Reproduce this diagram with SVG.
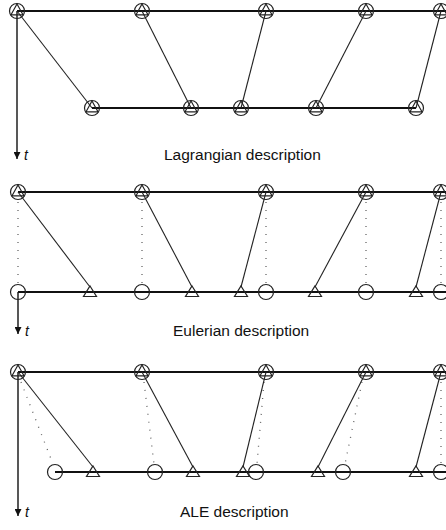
<svg xmlns="http://www.w3.org/2000/svg" width="446" height="530" viewBox="0 0 446 530">
<defs>
<style>
.bg{fill:#fff}
.main{stroke:#111;stroke-width:1.8;fill:none}
.link{stroke:#222;stroke-width:1.1;fill:none}
.dot{stroke:#666;stroke-width:1.3;stroke-dasharray:1 7;fill:none}
.axis{stroke:#111;stroke-width:1.4;fill:none}
.circ{fill:none;stroke:#222;stroke-width:1.2}
.tri{fill:none;stroke:#222;stroke-width:1.2}
.lbl{font-family:"Liberation Sans",Arial,sans-serif;font-size:15.5px;fill:#111}
.t{font-family:"Liberation Sans",Arial,sans-serif;font-size:14px;font-style:italic;fill:#111}
</style>
<marker id="arr" viewBox="0 0 8 8" refX="8" refY="4" markerWidth="7" markerHeight="7" markerUnits="userSpaceOnUse" orient="auto">
<path d="M0,0 L8,4 L0,8 Z" fill="#111"/>
</marker>
<g id="both">
<circle class="circ" r="7.5"/>
<path class="tri" d="M0,-7 L6,3.8 L-6,3.8 Z"/>
</g>
<g id="c">
<circle class="circ" r="7.5"/>
</g>
<g id="tr">
<path class="tri" d="M0,-6 L6.5,4.5 L-6.5,4.5 Z"/>
</g>
</defs>
<rect class="bg" width="446" height="530"/>

<!-- Connectors -->
<g id="connectors">
<!-- Lagrangian -->
<line class="main" x1="17" y1="11" x2="446" y2="11"/>
<line class="main" x1="92" y1="108" x2="416" y2="108"/>
<line class="axis" x1="17" y1="11" x2="17" y2="159" marker-end="url(#arr)"/>
<line class="link" x1="17" y1="11" x2="92" y2="108"/>
<line class="link" x1="142" y1="11" x2="191" y2="108"/>
<line class="link" x1="266" y1="11" x2="241" y2="108"/>
<line class="link" x1="366" y1="11" x2="316" y2="108"/>
<line class="link" x1="441" y1="11" x2="416" y2="108"/>
<!-- Eulerian -->
<line class="main" x1="18" y1="192" x2="446" y2="192"/>
<line class="main" x1="18" y1="292" x2="446" y2="292"/>
<line class="axis" x1="18" y1="292" x2="18" y2="334" marker-end="url(#arr)"/>
<line class="dot" x1="18" y1="202" x2="18" y2="284"/>
<line class="dot" x1="142" y1="202" x2="142" y2="284"/>
<line class="dot" x1="266" y1="202" x2="266" y2="284"/>
<line class="dot" x1="366" y1="202" x2="366" y2="284"/>
<line class="dot" x1="441" y1="202" x2="441" y2="284"/>
<line class="link" x1="18" y1="192" x2="90" y2="287"/>
<line class="link" x1="142" y1="192" x2="192" y2="287"/>
<line class="link" x1="266" y1="192" x2="241" y2="287"/>
<line class="link" x1="366" y1="192" x2="315" y2="287"/>
<line class="link" x1="441" y1="192" x2="416" y2="287"/>
<!-- ALE -->
<line class="main" x1="18" y1="372" x2="446" y2="372"/>
<line class="main" x1="55" y1="472" x2="446" y2="472"/>
<line class="axis" x1="18" y1="372" x2="18" y2="516" marker-end="url(#arr)"/>
<line class="dot" x1="21" y1="382" x2="53" y2="464"/>
<line class="dot" x1="144" y1="382" x2="154" y2="464"/>
<line class="dot" x1="264" y1="382" x2="257" y2="464"/>
<line class="dot" x1="362" y1="382" x2="345" y2="464"/>
<line class="dot" x1="441" y1="382" x2="441" y2="464"/>
<line class="link" x1="18" y1="372" x2="93" y2="467"/>
<line class="link" x1="142" y1="372" x2="193" y2="467"/>
<line class="link" x1="266" y1="372" x2="243" y2="467"/>
<line class="link" x1="366" y1="372" x2="318" y2="467"/>
<line class="link" x1="441" y1="372" x2="416" y2="467"/>
</g>

<!-- Lagrangian nodes -->
<g id="lag-top-1"><use href="#both" x="17" y="11"/></g>
<g id="lag-top-2"><use href="#both" x="142" y="11"/></g>
<g id="lag-top-3"><use href="#both" x="266" y="11"/></g>
<g id="lag-top-4"><use href="#both" x="366" y="11"/></g>
<g id="lag-top-5"><use href="#both" x="441" y="11"/></g>
<g id="lag-bot-1"><use href="#both" x="92" y="108"/></g>
<g id="lag-bot-2"><use href="#both" x="191" y="108"/></g>
<g id="lag-bot-3"><use href="#both" x="241" y="108"/></g>
<g id="lag-bot-4"><use href="#both" x="316" y="108"/></g>
<g id="lag-bot-5"><use href="#both" x="416" y="108"/></g>

<!-- Eulerian nodes -->
<g id="eul-top-1"><use href="#both" x="18" y="192"/></g>
<g id="eul-top-2"><use href="#both" x="142" y="192"/></g>
<g id="eul-top-3"><use href="#both" x="266" y="192"/></g>
<g id="eul-top-4"><use href="#both" x="366" y="192"/></g>
<g id="eul-top-5"><use href="#both" x="441" y="192"/></g>
<g id="eul-mesh-1"><use href="#c" x="18" y="292"/></g>
<g id="eul-mesh-2"><use href="#c" x="142" y="292"/></g>
<g id="eul-mesh-3"><use href="#c" x="266" y="292"/></g>
<g id="eul-mesh-4"><use href="#c" x="366" y="292"/></g>
<g id="eul-mesh-5"><use href="#c" x="441" y="292"/></g>
<g id="eul-mat-1"><use href="#tr" x="90" y="292"/></g>
<g id="eul-mat-2"><use href="#tr" x="192" y="292"/></g>
<g id="eul-mat-3"><use href="#tr" x="241" y="292"/></g>
<g id="eul-mat-4"><use href="#tr" x="315" y="292"/></g>
<g id="eul-mat-5"><use href="#tr" x="416" y="292"/></g>

<!-- ALE nodes -->
<g id="ale-top-1"><use href="#both" x="18" y="372"/></g>
<g id="ale-top-2"><use href="#both" x="142" y="372"/></g>
<g id="ale-top-3"><use href="#both" x="266" y="372"/></g>
<g id="ale-top-4"><use href="#both" x="366" y="372"/></g>
<g id="ale-top-5"><use href="#both" x="441" y="372"/></g>
<g id="ale-mesh-1"><use href="#c" x="55" y="472"/></g>
<g id="ale-mesh-2"><use href="#c" x="155" y="472"/></g>
<g id="ale-mesh-3"><use href="#c" x="256" y="472"/></g>
<g id="ale-mesh-4"><use href="#c" x="343" y="472"/></g>
<g id="ale-mesh-5"><use href="#c" x="441" y="472"/></g>
<g id="ale-mat-1"><use href="#tr" x="93" y="472"/></g>
<g id="ale-mat-2"><use href="#tr" x="193" y="472"/></g>
<g id="ale-mat-3"><use href="#tr" x="243" y="472"/></g>
<g id="ale-mat-4"><use href="#tr" x="318" y="472"/></g>
<g id="ale-mat-5"><use href="#tr" x="416" y="472"/></g>

<!-- Labels -->
<g id="labels">
<text class="t" x="24" y="160">t</text>
<text class="lbl" x="164" y="160">Lagrangian description</text>
<text class="t" x="25" y="336">t</text>
<text class="lbl" x="173" y="336">Eulerian description</text>
<text class="t" x="25" y="517">t</text>
<text class="lbl" x="180" y="517">ALE description</text>
</g>
</svg>
